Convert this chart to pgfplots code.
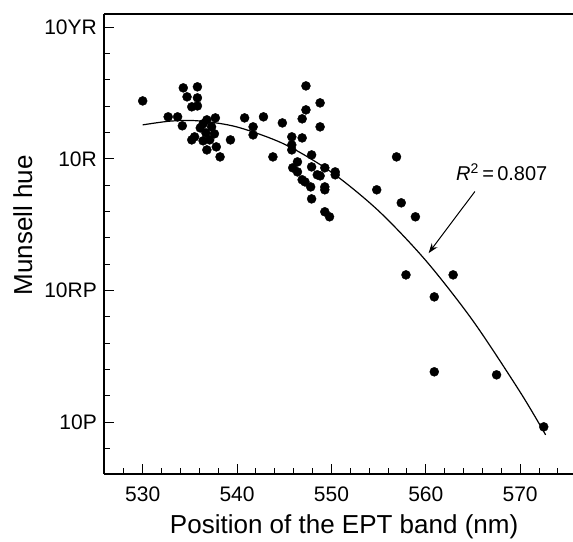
\documentclass[border=0pt]{standalone}
\usepackage{fontspec}
\setmainfont{Liberation Sans}
\usepackage{pgfplots}
\usepackage{pgfplotstable}
\pgfplotsset{compat=1.18}
\usetikzlibrary{arrows.meta}
\pgfplotstableread{
x y
530.0 24.40
532.7 23.19
533.7 23.19
534.2 22.51
534.3 25.39
534.7 24.71
535.8 25.47
535.8 24.63
535.2 23.95
535.8 24.02
536.8 22.96
537.7 23.11
536.1 22.35
537.3 22.43
536.7 21.97
535.5 21.67
535.2 21.44
537.1 21.44
536.8 20.68
537.8 20.91
538.2 20.15
539.3 21.44
540.8 23.11
541.7 22.43
541.7 21.82
536.4 22.66
537.6 21.90
536.4 21.37
542.8 23.19
544.8 22.73
543.8 20.15
547.3 25.54
548.8 24.25
547.3 23.72
546.9 23.04
548.8 22.43
545.8 21.67
546.9 21.59
545.8 21.06
545.8 20.68
547.9 20.30
546.4 19.77
545.9 19.32
547.9 19.39
546.4 19.01
549.3 19.32
550.4 19.01
550.4 18.79
548.5 18.79
548.8 18.71
546.9 18.41
547.2 18.25
547.8 17.87
549.3 17.87
549.3 17.65
547.9 16.96
549.3 15.98
549.8 15.60
556.9 20.15
554.8 17.65
557.4 16.66
558.9 15.60
557.9 11.19
562.9 11.19
560.9 9.52
560.9 3.83
567.5 3.60
572.5 -0.35
}\points
\pgfplotstableread{
x y
530.0 22.58
533.0 22.87
536.0 22.88
540.0 22.42
545.0 21.12
550.0 18.99
555.0 16.05
560.0 12.28
565.0 7.70
570.0 2.29
572.7 -0.96
}\fit
\begin{document}
\begin{tikzpicture}
\useasboundingbox (-104bp,-68bp) rectangle (469bp,474bp);
\begin{axis}[
  at={(0,0)}, anchor=south west,
  scale only axis, width=469bp, height=460bp,
  xmin=525.9, xmax=575.6, ymin=-3.93, ymax=31.0,
  axis lines=left, axis line style={-, line width=1.6bp},
  tick align=inside, tick style={black, line width=0.9bp},
  major tick length=10bp, minor tick length=6bp,
  xtick={530,540,...,570},
  minor xtick={526,528,532,534,536,538,542,544,546,548,552,554,556,558,562,564,566,568,572,574},
  ytick={0,10,20,30},
  yticklabels={10P,10RP,10R,10YR},
  minor ytick={-2,2,4,6,8,12,14,16,18,22,24,26,28},
  /pgf/number format/assume math mode=true,
  /pgf/number format/set thousands separator={},
  ticklabel style={font=\fontsize{21bp}{25bp}\selectfont},
  xticklabel style={anchor=north, inner sep=0pt, yshift=-13bp},
  yticklabel style={anchor=east, inner sep=0pt, xshift=-7bp},
  label style={font=\fontsize{26bp}{31bp}\selectfont},
  xlabel={Position of the EPT band (nm)},
  ylabel={Munsell hue},
  xlabel style={at={(axis description cs:0.512,-0.115)}, anchor=center},
  ylabel style={at={(axis description cs:-0.173,0.541)}, anchor=center},
  clip=false,
]
\addplot[black, line width=1.2bp, smooth, no marks] table[x=x,y=y] {\fit};
\addplot[only marks, mark=*, mark size=4.5bp, black] table[x=x,y=y] {\points};
\draw[line width=1.6bp] (rel axis cs:0,1) -- (rel axis cs:1,1);
\draw[line width=1bp, -{Stealth[length=10bp,width=7bp]}] (axis cs:565.2,17.52) -- (axis cs:560.3,12.84);
\node[anchor=base, inner sep=0pt, font=\fontsize{20bp}{24bp}\selectfont] at (axis cs:568.05,18.33) {\textit{R}\textsuperscript{2}\,=\,0.807};
\end{axis}
\end{tikzpicture}
\end{document}
